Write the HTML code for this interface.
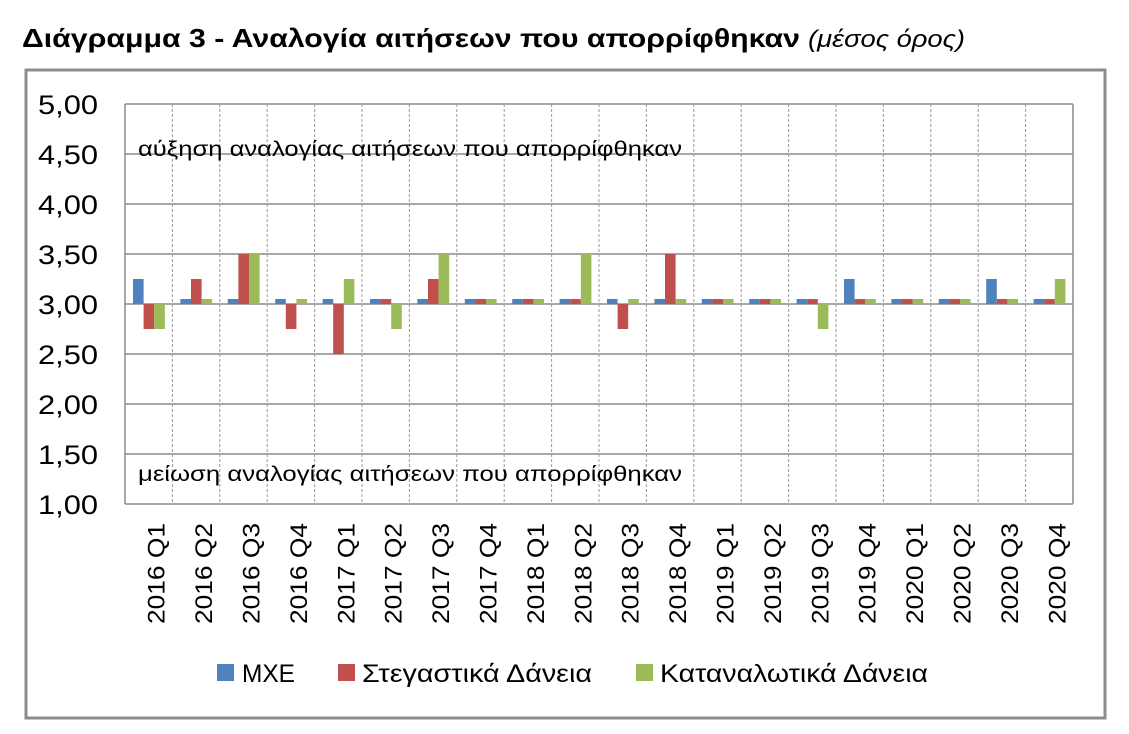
<!DOCTYPE html>
<html><head><meta charset="utf-8"><style>
html,body{margin:0;padding:0;background:#fff;}
svg{display:block;font-family:"Liberation Sans","DejaVu Sans",sans-serif;}
</style></head><body>
<svg width="1129" height="734" viewBox="0 0 1129 734" xmlns="http://www.w3.org/2000/svg">
<text x="22" y="47" font-size="26" font-weight="bold" fill="#000" textLength="778" lengthAdjust="spacingAndGlyphs">Διάγραμμα 3 - Αναλογία αιτήσεων που απορρίφθηκαν</text>
<text x="808" y="47" font-size="24" font-style="italic" fill="#000" textLength="157" lengthAdjust="spacingAndGlyphs">(μέσος όρος)</text>
<rect x="26" y="70" width="1079" height="648" fill="#fff" stroke="#8c8c8c" stroke-width="3"/>
<g id="grid"></g>
<g id="bars"></g>
<g id="labels"></g>
<text x="138" y="156" font-size="21" fill="#000" textLength="544" lengthAdjust="spacingAndGlyphs">αύξηση αναλογίας αιτήσεων που απορρίφθηκαν</text>
<text x="138" y="481" font-size="21" fill="#000" textLength="544" lengthAdjust="spacingAndGlyphs">μείωση αναλογίας αιτήσεων που απορρίφθηκαν</text>
<rect x="217" y="664" width="17" height="17" fill="#4F81BD"/>
<text x="242" y="682" font-size="25" textLength="53" lengthAdjust="spacingAndGlyphs">ΜΧΕ</text>
<rect x="338" y="664" width="17" height="17" fill="#C0504D"/>
<text x="362" y="682" font-size="25" textLength="230" lengthAdjust="spacingAndGlyphs">Στεγαστικά Δάνεια</text>
<rect x="636" y="664" width="17" height="17" fill="#9BBB59"/>
<text x="660" y="682" font-size="25" textLength="268" lengthAdjust="spacingAndGlyphs">Καταναλωτικά Δάνεια</text>
</svg>
<script>
var ns="http://www.w3.org/2000/svg";
function el(p,t,a,txt){var e=document.createElementNS(ns,t);for(var k in a)e.setAttribute(k,a[k]);if(txt)e.textContent=txt;document.getElementById(p).appendChild(e);return e;}
var L=125,R=1073,T=104,B=504,cw=(R-L)/20;
function y(v){return 504-(v-1)*100;}
for(var i=0;i<=8;i++){var v=1+i*0.5;var yy=y(v);
el("grid","line",{x1:L,x2:R,y1:yy,y2:yy,stroke:"#8c8c8c","stroke-width":1.5});
el("grid","text",{x:38,y:yy+10,"font-size":27,fill:"#000",textLength:60,lengthAdjust:"spacingAndGlyphs"},v.toFixed(2).replace(".",","));}
for(var i=1;i<20;i++){var xx=L+i*cw;el("grid","line",{x1:xx,x2:xx,y1:T,y2:B,stroke:"#999","stroke-width":1,"stroke-dasharray":"3,2"});}
el("grid","line",{x1:L,x2:L,y1:T,y2:B,stroke:"#8c8c8c","stroke-width":1.5});
el("grid","line",{x1:R,x2:R,y1:T,y2:B,stroke:"#8c8c8c","stroke-width":1.5});
var d=[[3.25,2.75,2.75],[3.05,3.25,3.05],[3.05,3.5,3.5],[3.05,2.75,3.05],[3.05,2.5,3.25],[3.05,3.05,2.75],[3.05,3.25,3.5],[3.05,3.05,3.05],[3.05,3.05,3.05],[3.05,3.05,3.5],[3.05,2.75,3.05],[3.05,3.5,3.05],[3.05,3.05,3.05],[3.05,3.05,3.05],[3.05,3.05,2.75],[3.25,3.05,3.05],[3.05,3.05,3.05],[3.05,3.05,3.05],[3.25,3.05,3.05],[3.05,3.05,3.25]];
var cols=["#4F81BD","#C0504D","#9BBB59"];
var names=["2016","2016","2016","2016","2017","2017","2017","2017","2018","2018","2018","2018","2019","2019","2019","2019","2020","2020","2020","2020"];
for(var i=0;i<20;i++){var x0=L+i*cw+8;
for(var s=0;s<3;s++){var v=d[i][s];var y1=Math.min(y(v),y(3)),h=Math.abs(y(v)-y(3));
el("bars","rect",{x:x0+s*10.6,y:y1,width:10.6,height:h,fill:cols[s]});}
var cx=L+i*cw+cw/2+16;
el("labels","text",{x:cx,y:523,"font-size":24,"text-anchor":"end",textLength:101,lengthAdjust:"spacingAndGlyphs",transform:"rotate(-90 "+cx+" 523)"},names[i]+" Q"+(i%4+1));}
</script>
</body></html>
